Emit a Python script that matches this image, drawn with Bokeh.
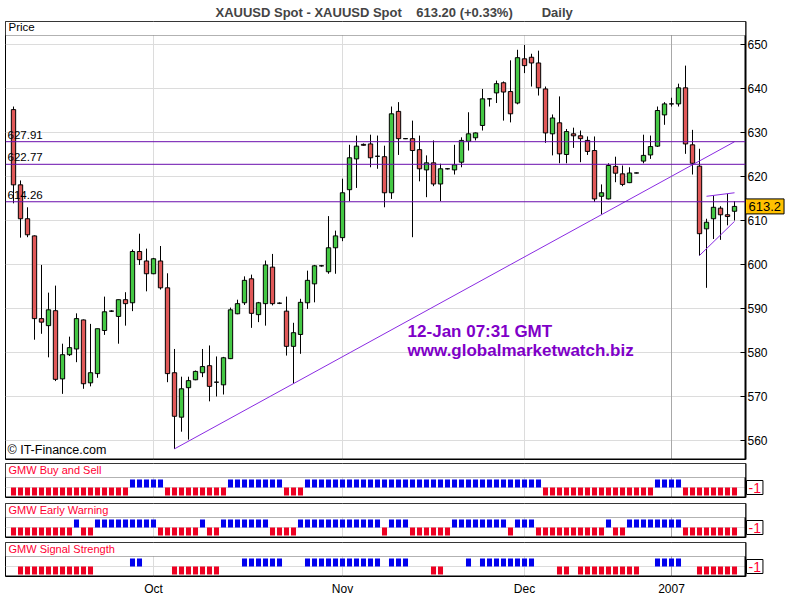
from bokeh.plotting import figure
from bokeh.layouts import column
from bokeh.models import (Range1d, FixedTicker, Span, Label, BoxAnnotation, ColumnDataSource)
from bokeh.embed import file_html
from bokeh.resources import INLINE

# ---------------- data ----------------
opens = [635.2, 618.1, 610.4, 606.5, 587.7, 586.1, 589.5, 574.0, 579.5, 580.8,
         587.4, 573.1, 575.2, 585.0, 589.4, 588.2, 592.0, 591.3, 602.95, 600.8,
         597.9, 600.8, 594.7, 575.4, 565.3, 572.0, 573.8, 575.4, 577.0, 573.25,
         572.65, 578.6, 588.8, 591.3, 596.75, 588.6, 591.1, 599.4, 591.2, 589.4,
         581.4, 584.1, 591.3, 595.6, 599.7, 598.35, 603.8, 606.1, 617.0, 624.0,
         627.3, 627.4, 624.6, 624.5, 616.3, 634.8, 628.6, 628.6, 626.1, 621.5,
         623.1, 618.3, 621.75, 621.5, 623.25, 628.0, 628.8, 631.6, 637.65, 639.0,
         641.3, 639.3, 636.7, 646.75, 647.1, 645.8, 639.9, 629.7, 632.2, 625.0,
         629.7, 629.25, 628.2, 625.9, 615.5, 614.9, 622.3, 620.6, 618.6, 620.8,
         623.5, 624.9, 626.9, 634.0, 636.5, 636.5, 640.15, 627.2, 622.35, 608.1,
         610.4, 612.8, 611.3, 612.1]
highs = [635.9, 619.1, 613.0, 606.6, 599.9, 593.6, 595.2, 582.0, 583.6, 588.9,
         587.5, 586.5, 585.4, 592.7, 589.6, 592.0, 593.7, 603.4, 607.0, 603.6,
         601.5, 604.2, 598.0, 580.8, 574.5, 574.5, 575.9, 580.8, 581.6, 579.1,
         579.0, 590.2, 592.0, 597.3, 597.7, 591.5, 600.9, 602.4, 591.4, 592.7,
         586.75, 592.2, 598.6, 599.9, 599.9, 611.0, 607.7, 619.5, 627.2, 629.3,
         627.5, 629.5, 629.3, 627.0, 635.9, 636.9, 628.7, 632.7, 629.3, 624.8,
         628.2, 622.9, 621.9, 627.2, 628.9, 634.6, 630.0, 639.9, 637.8, 641.8,
         641.6, 646.4, 648.8, 649.9, 647.9, 648.6, 640.45, 634.1, 638.2, 630.8,
         631.1, 630.45, 629.1, 629.1, 618.2, 623.0, 624.5, 622.5, 622.1, 620.9,
         629.5, 629.3, 635.9, 636.9, 637.9, 641.1, 645.2, 630.6, 626.3, 610.4,
         615.7, 613.25, 616.1, 614.4]
lows = [613.9, 606.1, 606.2, 582.9, 584.25, 578.9, 573.5, 570.6, 579.2, 577.8,
        571.75, 572.3, 574.25, 584.0, 589.2, 582.0, 586.1, 589.4, 599.9, 593.9,
        597.8, 594.3, 573.25, 558.1, 562.0, 560.2, 573.7, 574.4, 568.9, 570.0,
        570.45, 578.5, 588.7, 590.8, 585.6, 586.9, 586.1, 590.7, 591.0, 579.3,
        572.9, 579.7, 589.9, 591.4, 599.5, 597.9, 597.9, 605.3, 614.4, 617.4,
        627.0, 622.1, 621.75, 613.0, 614.9, 624.9, 628.5, 606.2, 618.9, 615.3,
        617.8, 614.4, 621.6, 620.45, 622.1, 625.9, 628.2, 630.45, 635.9, 636.7,
        632.7, 632.3, 636.4, 643.5, 640.45, 638.4, 627.65, 624.8, 623.0, 623.0,
        626.5, 623.25, 624.9, 614.2, 611.4, 614.8, 618.7, 617.8, 618.5, 620.7,
        623.0, 624.0, 626.7, 631.75, 635.9, 635.9, 625.15, 620.45, 602.0, 594.7,
        605.8, 605.6, 608.9, 610.0]
closes = [618.1, 610.4, 606.75, 587.7, 586.9, 589.7, 573.9, 579.5, 581.1, 587.7,
          572.9, 575.4, 585.4, 589.25, 589.4, 592.0, 591.1, 602.95, 601.1, 597.9,
          601.3, 594.7, 575.2, 565.5, 571.75, 573.6, 575.7, 576.8, 572.3, 573.25,
          578.8, 589.7, 591.1, 596.4, 588.9, 591.3, 599.9, 591.1, 591.2, 581.4,
          584.5, 591.4, 596.4, 599.7, 599.7, 603.8, 606.5, 616.3, 624.25, 626.9,
          627.1, 624.25, 624.6, 616.3, 634.25, 628.6, 628.6, 625.9, 621.75, 623.1,
          618.3, 621.75, 621.75, 622.65, 628.2, 629.7, 629.9, 637.65, 637.65, 641.1,
          639.2, 634.25, 647.0, 645.2, 645.8, 640.15, 629.9, 633.3, 625.15, 630.2,
          629.25, 628.6, 625.7, 614.9, 616.3, 622.5, 620.75, 618.2, 620.8, 620.8,
          624.8, 626.8, 635.0, 636.5, 636.5, 640.15, 627.4, 623.0, 607.0, 609.6,
          613.0, 611.3, 610.9, 613.2]

buy_sell = [-1, -1, -1, -1, -1, -1, -1, -1, -1, -1,
            -1, -1, -1, -1, -1, -1, -1, 1, 1, 1,
            1, 1, -1, -1, -1, -1, -1, -1, -1, -1,
            -1, 1, 1, 1, 1, 1, 1, 1, 1, -1,
            -1, -1, 1, 1, 1, 1, 1, 1, 1, 1,
            1, 1, 1, 1, 1, 1, 1, 1, 1, 1,
            1, 1, 1, 1, 1, 1, 1, 1, 1, 1,
            1, 1, 1, 1, 1, 1, -1, -1, -1, -1,
            -1, -1, -1, -1, -1, -1, -1, -1, -1, -1,
            -1, -1, 1, 1, 1, 1, -1, -1, -1, -1,
            -1, -1, -1, -1]
early_warning = [-1, -1, -1, -1, -1, -1, -1, -1, -1, 1,
                 -1, -1, 1, 1, 1, 1, 1, 1, 1, 1,
                 1, -1, -1, -1, -1, -1, -1, 1, -1, -1,
                 1, 1, 1, 1, 1, 1, 1, -1, -1, -1,
                 -1, 1, 1, 1, 1, 1, 1, 1, 1, 1,
                 1, 1, 1, -1, 1, 1, 1, -1, -1, -1,
                 -1, -1, -1, 1, 1, 1, 1, 1, 1, 1,
                 1, -1, 1, 1, 1, -1, -1, -1, -1, -1,
                 -1, -1, -1, -1, -1, 1, -1, -1, 1, 1,
                 1, 1, 1, 1, 1, 1, -1, -1, -1, -1,
                 -1, -1, -1, -1]
signal_strength = [0, -1, -1, -1, -1, -1, -1, -1, -1, -1,
                   -1, -1, 0, 0, 0, 0, 0, 1, 1, 0,
                   0, 0, 0, -1, -1, -1, -1, -1, -1, -1,
                   0, 0, 0, 1, 1, 1, 1, 1, 1, 0,
                   0, 0, 1, 1, 1, 1, 1, 1, 1, 1,
                   1, 1, 1, 0, 1, 1, 1, 0, 0, 0,
                   -1, -1, 0, 0, 0, 1, 0, 1, 1, 1,
                   1, 1, 1, 1, 1, 0, 0, 0, -1, -1,
                   0, -1, -1, -1, -1, -1, -1, -1, -1, -1,
                   0, 0, 1, 1, 1, 1, 0, 0, -1, -1,
                   -1, -1, -1, -1]

price_ticks = [560, 570, 580, 590, 600, 610, 620, 630, 640, 650]
month_ticks = [20, 47, 73, 94]
month_labels = ["Oct", "Nov", "Dec", "2007"]
level_values = [627.91, 622.77, 614.26]
level_labels = ["627.91", "622.77", "614.26"]
trend_x = [23, 103]
trend_y = [558.1, 627.9]
wedge_up_x = [99, 103]
wedge_up_y = [615.5, 616.3]
wedge_lo_x = [98, 103]
wedge_lo_y = [602.05, 609.8]
last_price = 613.2
signal_axis_label = "-1"
title_text = ("XAUUSD Spot - XAUUSD Spot\u00a0\u00a0\u00a0 613.20 (+0.33%)"
              "\u00a0\u00a0\u00a0\u00a0\u00a0\u00a0\u00a0 Daily")
panel_titles = ["GMW Buy and Sell", "GMW Early Warning", "GMW Signal Strength"]

# ---------------- styling ----------------
FONT = "Liberation Sans"
GRID = "#dcdcdc"
GRID_YEAR = "#a8a8a8"
GREEN = "#44c844"
RED = "#e05858"
BLUE_SIG = "#0000ee"
RED_SIG = "#ee0022"
SIG_TEXT = "#ff0033"
X0, X1 = -1.143, 104.571
xr = Range1d(X0, X1)
YB, YT = 555.68, 655.227
HEADER_Y = 652.045
SIG_LO, SIG_HI, SIG_HEAD = -1.25, 3.0, 1.25
FRAME_W = 740
RIGHT_B = 50

n = len(opens)
idx = list(range(n))


def month_spans(fig):
    for t in month_ticks:
        fig.add_layout(Span(location=t, dimension="height",
                            line_color=GRID_YEAR if t == month_ticks[-1] else GRID,
                            line_width=1, level="underlay"))


# ---------------- price panel ----------------
p = figure(frame_width=FRAME_W, frame_height=438, x_range=xr, y_range=Range1d(YB, YT),
           output_backend="svg", toolbar_location=None,
           x_axis_location=None, y_axis_location="right",
           min_border_left=5, min_border_right=RIGHT_B, min_border_top=21, min_border_bottom=4,
           background_fill_color="white", border_fill_color="white",
           outline_line_color="black", title=title_text)
p.title.align = "left"
p.title.offset = 210
p.title.text_font = FONT
p.title.text_font_size = "13px"
p.title.text_font_style = "bold"
p.title.standoff = 3

ax = p.yaxis[0]
ax.ticker = FixedTicker(ticks=price_ticks)
ax.major_tick_in = 5
ax.major_tick_out = 0
ax.minor_tick_in = 0
ax.minor_tick_out = 0
ax.axis_line_width = 2
ax.axis_line_color = "black"
ax.major_label_text_font = FONT
ax.major_label_text_font_size = "12px"
ax.major_label_text_color = "black"
ax.major_label_standoff = 2
p.ygrid.ticker = FixedTicker(ticks=price_ticks)
p.ygrid.grid_line_color = GRID
p.xgrid.visible = False
month_spans(p)

src = ColumnDataSource(dict(
    x=idx, high=highs, low=lows,
    top=[max(o, c) for o, c in zip(opens, closes)],
    bottom=[min(o, c) for o, c in zip(opens, closes)],
    color=[RED if c < o else GREEN for o, c in zip(opens, closes)],
))
p.segment(x0="x", y0="high", x1="x", y1="low", source=src, line_color="black", line_width=1)
p.vbar(x="x", top="top", bottom="bottom", width=0.62, source=src,
       fill_color="color", line_color="black", line_width=1)

for v, t in zip(level_values, level_labels):
    p.add_layout(Span(location=v, dimension="width", line_color="#6a0dad", line_width=1))
    p.add_layout(Label(x=X0, y=v, text=t, x_offset=2, y_offset=3, text_baseline="bottom",
                       text_font=FONT, text_font_size="11.5px", text_color="black"))

p.line(trend_x, trend_y, line_color="#8a2be2", line_width=1)
p.line(wedge_up_x, wedge_up_y, line_color="#8a2be2", line_width=1)
p.line(wedge_lo_x, wedge_lo_y, line_color="#8a2be2", line_width=1)

p.add_layout(Label(x=56.3, y=586.9, text="12-Jan 07:31 GMT", text_baseline="top",
                   text_font=FONT, text_font_size="17px", text_font_style="bold",
                   text_color="#7f00c8"))
p.add_layout(Label(x=56.3, y=582.5, text="www.globalmarketwatch.biz", text_baseline="top",
                   text_font=FONT, text_font_size="17px", text_font_style="bold",
                   text_color="#7f00c8"))
p.add_layout(Label(x=X0, y=559.4, text="\u00a9 IT-Finance.com", x_offset=2, text_baseline="top",
                   text_font=FONT, text_font_size="12.5px", text_color="black"))

# thick bottom edge of the frame
p.add_layout(Span(location=YB, dimension="width", line_color="black", line_width=2, level="overlay"))

p.add_layout(BoxAnnotation(bottom=HEADER_Y, fill_color="white", fill_alpha=1,
                           line_color="black", line_width=1))
p.add_layout(Label(x=X0, y=HEADER_Y, text="Price", x_offset=3, y_offset=3, text_baseline="bottom",
                   text_font=FONT, text_font_size="11.5px", text_color="black"))
p.add_layout(Label(x=X1, y=last_price, text="613.2", x_offset=0, text_baseline="middle",
                   text_font=FONT, text_font_size="13px", text_color="black",
                   background_fill_color="#ffc000", border_line_color="black", padding=3),
             "right")


# ---------------- indicator panels ----------------
def indicator(title, values, bottom_border, show_x):
    f = figure(frame_width=FRAME_W, frame_height=34, x_range=xr, y_range=Range1d(SIG_LO, SIG_HI),
               output_backend="svg", toolbar_location=None,
               x_axis_location="below" if show_x else None, y_axis_location="right",
               min_border_left=5, min_border_right=RIGHT_B, min_border_top=0,
               min_border_bottom=bottom_border,
               background_fill_color="white", border_fill_color="white",
               outline_line_color="black")
    a = f.yaxis[0]
    a.ticker = FixedTicker(ticks=[])
    a.major_tick_in = 0
    a.major_tick_out = 0
    a.minor_tick_in = 0
    a.minor_tick_out = 0
    a.axis_line_width = 2
    a.axis_line_color = "black"
    f.ygrid.visible = False
    f.xgrid.visible = False
    f.add_layout(Span(location=0, dimension="width", line_color=GRID, line_width=1, level="underlay"))
    month_spans(f)
    xs = [i for i, v in zip(idx, values) if v != 0]
    vs = [v for v in values if v != 0]
    cs = [BLUE_SIG if v > 0 else RED_SIG for v in vs]
    f.vbar(x=xs, top=vs, bottom=0, width=0.72, fill_color=cs, line_color=None)
    f.add_layout(BoxAnnotation(bottom=SIG_HEAD, fill_color="white", fill_alpha=1,
                               line_color="black", line_width=1))
    f.add_layout(Label(x=X0, y=SIG_HEAD, text=title, x_offset=3, y_offset=2, text_baseline="bottom",
                       text_font=FONT, text_font_size="11px", text_color=SIG_TEXT))
    f.add_layout(Span(location=SIG_LO, dimension="width", line_color="black", line_width=2, level="overlay"))
    f.add_layout(Label(x=X1, y=0, text=signal_axis_label, x_offset=1, text_baseline="middle",
                       text_font=FONT, text_font_size="14px", text_color=SIG_TEXT,
                       background_fill_color="white", border_line_color="black", padding=2),
                 "right")
    if show_x:
        xa = f.xaxis[0]
        xa.ticker = FixedTicker(ticks=month_ticks)
        xa.major_label_overrides = {t: l for t, l in zip(month_ticks, month_labels)}
        xa.axis_line_color = None
        xa.major_tick_in = 0
        xa.major_tick_out = 0
        xa.minor_tick_in = 0
        xa.minor_tick_out = 0
        xa.major_label_standoff = 5
        xa.major_label_text_font = FONT
        xa.major_label_text_font_size = "12px"
        xa.major_label_text_color = "black"
    return f


f1 = indicator(panel_titles[0], buy_sell, 6, False)
f2 = indicator(panel_titles[1], early_warning, 5, False)
f3 = indicator(panel_titles[2], signal_strength, 0, True)

layout = column(p, f1, f2, f3, spacing=0)
open("out.html", "w").write(file_html(layout, INLINE))
